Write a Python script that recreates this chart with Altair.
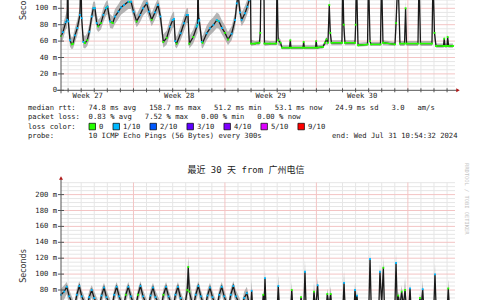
import altair as alt
import pandas as pd

# ---------------- data: upper graph (cropped, last 30 days) ----------------
top_t = [0.00, 0.15, 0.36, 0.47, 0.51, 0.56, 0.69, 0.82, 0.92, 1.07,
         1.25, 1.45, 1.52, 1.58, 1.71, 1.84, 2.01, 2.17, 2.35, 2.47,
         2.60, 2.73, 2.85, 3.06, 3.24, 3.44, 3.56, 3.75, 3.96, 4.13,
         4.39, 4.59, 4.82, 5.15, 5.36, 5.55, 5.79, 6.05, 6.28, 6.56,
         6.73, 6.94, 7.19, 7.42, 7.61, 7.83, 8.09, 8.34, 8.55, 8.65,
         8.74, 8.85, 9.16, 9.41, 9.62, 9.72, 9.82, 10.12, 10.39, 10.45,
         10.48, 10.53, 10.58, 10.77, 10.84, 11.15, 11.40, 11.66, 11.92, 12.09,
         12.32, 12.55, 12.78, 13.06, 13.32, 13.45, 13.56, 13.70, 13.83, 14.08,
         14.26, 14.40, 14.49, 14.54, 14.85, 15.19, 15.25, 15.31, 15.52, 15.57,
         15.99, 16.48, 16.53, 16.62, 16.80, 16.91, 17.49, 17.55, 17.60, 18.52,
         18.57, 18.62, 19.48, 19.53, 19.59, 20.05, 20.20, 20.32, 20.43, 20.53,
         20.61, 20.70, 21.50, 21.56, 21.64, 21.73, 22.50, 22.55, 22.61, 22.73,
         23.46, 23.53, 23.65, 23.72, 24.45, 24.53, 24.64, 25.56, 25.64, 25.79,
         25.94, 26.29, 26.37, 26.44, 27.32, 27.40, 27.51, 28.39, 28.47, 28.58,
         28.70, 29.27, 29.33, 29.39, 29.54, 29.59, 29.66, 30.00]
top_med = [66, 71, 83, 86, 150, 84, 61, 56, 57, 67,
           76, 92, 150, 88, 59, 57.6, 61, 71.5, 90, 100,
           100, 82, 78, 82, 92, 100, 102, 84, 82, 90,
           96, 101, 104, 108, 108, 96, 84, 92, 100, 106,
           96, 86, 95, 104, 90, 59, 64, 77.6, 85.7, 87,
           60, 57, 69.5, 81.7, 91.8, 92, 57, 65, 77.6, 80,
           150, 84, 85.7, 59, 58, 69.5, 75.6, 79.6, 85.7, 84,
           76, 70, 62, 69, 85.7, 106, 116, 95, 86, 94,
           102, 110, 140, 57, 57, 58, 70, 140, 140, 57,
           57, 57, 140, 61, 58, 52, 52, 61, 52, 52,
           59, 52, 52, 60, 52, 53, 58, 62, 58, 104,
           70, 58, 58, 140, 80, 58, 58, 80, 140, 55,
           56, 140, 60, 56, 56, 140, 58, 56, 82, 140,
           57, 57, 100, 57, 57, 140, 57, 57, 140, 70,
           54, 54, 63, 54, 54, 65, 54, 54]
top_lo = [58, 62, 74, 76, 130, 72, 53, 50, 51, 58,
          67, 82, 130, 78, 52, 51, 54, 62, 80, 90,
          90, 74, 71, 74, 83, 91, 93, 76, 75, 81,
          87, 92, 95, 99, 99, 88, 77, 83, 91, 96,
          88, 78, 86, 95, 80, 52, 56, 68, 76, 77,
          53, 51, 61, 72, 82, 82, 51, 57, 68, 70,
          130, 74, 76, 52, 51, 61, 67, 71, 76, 75,
          68, 62, 55, 61, 76, 96, 105, 86, 78, 85,
          93, 100, 130, 54, 55, 55, 60, 130, 130, 54,
          55, 55, 130, 55, 54, 50, 50, 51, 50, 50,
          51, 50, 50, 51, 50, 51, 55, 56, 55, 90,
          60, 55, 55, 130, 65, 55, 55, 65, 130, 53,
          54, 130, 55, 54, 54, 130, 55, 54, 65, 130,
          54, 54, 85, 54, 54, 130, 54, 54, 130, 60,
          52, 52, 53, 52, 52, 53, 52, 52]
top_hi = [74, 80, 92, 98, 160, 95, 70, 64, 66, 76,
          86, 102, 160, 98, 68, 66, 70, 81, 99, 108,
          108, 92, 86, 90, 101, 108, 110, 93, 90, 99,
          105, 110, 113, 116, 116, 105, 92, 101, 109, 114,
          105, 94, 104, 112, 100, 68, 73, 87, 95, 96,
          70, 65, 79, 91, 100, 100, 66, 74, 87, 90,
          160, 94, 95, 68, 66, 79, 85, 89, 95, 93,
          85, 79, 71, 78, 95, 115, 125, 105, 95, 103,
          111, 120, 160, 62, 60, 61, 80, 160, 160, 61,
          60, 60, 160, 66, 62, 55, 55, 64, 55, 55,
          62, 55, 55, 63, 55, 56, 61, 65, 61, 112,
          78, 61, 61, 160, 90, 61, 61, 90, 160, 58,
          59, 160, 65, 59, 59, 160, 61, 59, 95, 160,
          60, 60, 110, 60, 60, 160, 60, 60, 160, 80,
          57, 57, 66, 57, 57, 68, 57, 57]
top_loss = ("gbbbbbbggb" "bbbbbggbbb" "bbggbbbbgb" "bbbbbbgbbb" "bgbbbggbbb"
            "bgbbbbggbb" "bbbbgbbbbb" "bggbbbbbbb" "bbbggggggg" "gggggggggg"
            "gggggggggg" "gggggggggg" "gggggggggg" "ggggggggbg" "gggggggg")

# ---------------- data: lower graph (最近 30 天, cropped at the bottom) ----------------
bot_t = [0.00, 0.24, 0.44, 0.63, 1.02, 1.21, 1.40, 1.59, 1.97, 2.16,
         2.35, 2.54, 2.91, 3.10, 3.29, 3.48, 3.88, 4.07, 4.26, 4.45,
         4.77, 4.96, 5.15, 5.34, 5.70, 5.89, 6.08, 6.28, 6.66, 6.85,
         7.04, 7.23, 7.65, 7.84, 8.04, 8.23, 8.57, 8.76, 8.95, 9.15,
         9.45, 9.67, 9.74, 9.82, 10.12, 10.31, 10.51, 10.70, 11.02, 11.21,
         11.40, 11.59, 11.92, 12.11, 12.30, 12.49, 12.80, 12.99, 13.19, 13.38,
         13.83, 14.02, 14.22, 14.41, 14.50, 14.59, 14.69, 15.38, 15.48, 15.55,
         15.61, 15.71, 16.53, 16.63, 16.73, 17.56, 17.66, 17.76, 18.28, 18.37,
         18.46, 18.58, 18.67, 18.77, 19.27, 19.36, 19.48, 19.64, 19.74, 20.28,
         20.38, 20.51, 20.64, 20.74, 21.56, 21.66, 21.76, 22.41, 22.50, 22.58,
         22.65, 22.75, 23.55, 23.65, 23.75, 24.31, 24.41, 24.54, 24.67, 24.76,
         25.54, 25.64, 25.73, 25.81, 25.94, 26.07, 26.20, 26.33, 26.44, 26.61,
         26.71, 26.81, 27.38, 27.47, 27.56, 27.68, 27.78, 28.52, 28.62, 28.72,
         29.54, 29.64, 29.74, 30.00]
bot_med = [74, 78, 84, 72, 57, 74, 85, 72, 57, 71,
           80, 70, 57, 73, 83, 71, 57, 74, 84, 72,
           57, 74, 84, 72, 57, 74, 85, 72, 57, 73,
           83, 71, 57, 74, 84, 72, 57, 74, 84, 70,
           58, 80, 109, 78, 58, 74, 85, 72, 57, 73,
           83, 71, 57, 74, 84, 72, 57, 74, 85, 72,
           57, 70, 76, 62, 52, 79, 52, 52, 74, 60,
           95, 52, 52, 85, 52, 52, 80, 52, 52, 71,
           55, 55, 103, 52, 52, 78, 56, 86, 52, 52,
           75, 60, 75, 52, 52, 89, 52, 52, 80, 64,
           73, 52, 52, 119, 52, 52, 103, 62, 108, 52,
           52, 114, 62, 73, 60, 78, 60, 80, 55, 55,
           82, 52, 52, 70, 58, 81, 52, 52, 99.7, 52,
           52, 82, 52, 52]
bot_lo = [64, 68, 75, 62, 48, 64, 76, 62, 48, 61,
          71, 60, 48, 63, 74, 61, 48, 64, 75, 62,
          48, 64, 75, 62, 48, 64, 76, 62, 48, 63,
          74, 61, 48, 64, 75, 62, 48, 64, 75, 60,
          49, 68, 90, 66, 49, 64, 76, 62, 48, 63,
          74, 61, 48, 64, 75, 62, 48, 64, 76, 62,
          48, 60, 67, 52, 44, 67, 44, 44, 62, 52,
          83, 44, 44, 73, 44, 44, 68, 44, 44, 60,
          47, 47, 91, 44, 44, 66, 48, 74, 44, 44,
          63, 52, 63, 44, 44, 77, 44, 44, 68, 56,
          61, 44, 44, 107, 44, 44, 91, 54, 96, 44,
          44, 102, 54, 61, 52, 66, 52, 68, 47, 47,
          70, 44, 44, 58, 50, 69, 44, 44, 88, 44,
          44, 70, 44, 44]
bot_hi = [82, 86, 90, 80, 64, 82, 91, 80, 64, 79,
          86, 78, 64, 81, 89, 79, 64, 82, 90, 80,
          64, 82, 90, 80, 64, 82, 91, 80, 64, 81,
          89, 79, 64, 82, 90, 80, 64, 82, 90, 78,
          66, 100, 122, 95, 66, 82, 91, 80, 64, 81,
          89, 79, 64, 82, 90, 80, 64, 82, 91, 80,
          64, 78, 84, 70, 60, 93, 60, 60, 80, 66,
          107, 60, 60, 99, 60, 60, 90, 60, 60, 75,
          62, 62, 118, 60, 60, 90, 63, 95, 60, 60,
          82, 66, 85, 60, 60, 104, 60, 60, 89, 70,
          80, 60, 60, 131, 60, 60, 113, 68, 121, 60,
          60, 126, 68, 78, 66, 86, 66, 95, 62, 62,
          89, 60, 60, 75, 64, 92.6, 60, 60, 113.6, 60,
          60, 93.5, 60, 60]
bot_loss = ("bbbbgbbbgb" "bbgbbbgbbb" "ggbbggbbgb" "bbggbbgbbb" "gggggbbbgb"
            "bbgbbbgbbb" "gbbbgbgggg" "bggbgggggg" "ggbggggbgg" "gggggbggbg"
            "bggbggbggg" "gbgggggggg" "bggggbggbg" "gggg")

# ---------------- axis / legend texts ----------------
week_labels = ["Week 27", "Week 28", "Week 29", "Week 30"]
week_centers = [2.045, 9.045, 16.045, 23.045]       # days since start
week_lines = [5.545, 12.545, 19.545, 26.545]         # Sunday 00:00
day_lines = [0.545 + i for i in range(30)]           # every midnight
top_ticks = [0, 20, 40, 60, 80, 100]
bot_ticks = [80, 100, 120, 140, 160, 180, 200]
legend_line1 = "median rtt:   74.8 ms avg   158.7 ms max   51.2 ms min   53.1 ms now   24.9 ms sd   3.0   am/s"
legend_line2 = "packet loss:  0.83 % avg   7.52 % max   0.00 % min   0.00 % now"
legend_line3 = "loss color:"
legend_line4 = "probe:        10 ICMP Echo Pings (56 Bytes) every 300s"
legend_end = "end: Wed Jul 31 10:54:32 2024"
loss_labels = ["0", "1/10", "2/10", "3/10", "4/10", "5/10", "9/10"]
loss_colors = ["#26ff00", "#00b8ff", "#0059ff", "#5e00ff", "#7e00ff", "#dd00ff", "#ff0000"]
title2 = "最近 30 天 from 广州电信"
y_title = "Seconds"
watermark = "RRDTOOL / TOBI OETIKER"

# ---------------- layout constants ----------------
NB = "\u00a0"
def nb(s):
    return s.replace(" ", NB)

MONO = "DejaVu Sans Mono"
FS = 7.2
CW = FS * 0.602
GREEN, BLUE = "#26ff00", "#00b8ff"
PXD = 13.067
X0 = 61.0
XR = 455.0
XS = alt.Scale(domain=[-X0 / PXD, (480 - X0) / PXD], nice=False, zero=False)
Y0T, KT = 90.3, 0.82
YT = alt.Scale(domain=[(Y0T - 300) / KT, Y0T / KT], nice=False, zero=False)
Y0B, KB = 353.6, 0.795
YB = alt.Scale(domain=[(Y0B - 300) / KB, Y0B / KB], nice=False, zero=False)
BOT_TOP = 182.5

layers = []


def X(f):
    return alt.X(f, scale=XS, axis=None)


def px(f):
    return alt.X(f, scale=None, axis=None)


def py(f):
    return alt.Y(f, scale=None, axis=None)


def panel(t, med, lo, hi, loss, ys, vmin, vmax, ytop, ybot):
    df = pd.DataFrame({"t": t, "med": med, "lo": lo, "hi": hi, "loss": list(loss)})
    df["col"] = df["loss"].map({"g": GREEN, "b": BLUE})
    Y = lambda f: alt.Y(f, scale=ys, axis=None)
    vals = list(range(vmin, vmax + 1, 5))
    minor = pd.DataFrame({"v": [v for v in vals if v % 20]})
    major = pd.DataFrame({"v": [v for v in vals if v % 20 == 0 and v > 0]})
    dminor = pd.DataFrame({"d": [d for d in day_lines if d not in week_lines]})
    dmajor = pd.DataFrame({"d": week_lines})
    out = [
        alt.Chart(minor).mark_rule(color="#e6e6e6", strokeWidth=1).encode(
            y=Y("v:Q"), x=alt.value(X0), x2=alt.value(XR)),
        alt.Chart(dminor).mark_rule(color="#e6e6e6", strokeWidth=1).encode(
            x=X("d:Q"), y=alt.value(ytop), y2=alt.value(ybot)),
        alt.Chart(major).mark_rule(color="#f3c4c4", strokeWidth=1).encode(
            y=Y("v:Q"), x=alt.value(X0), x2=alt.value(XR)),
        alt.Chart(dmajor).mark_rule(color="#f3c4c4", strokeWidth=1).encode(
            x=X("d:Q"), y=alt.value(ytop), y2=alt.value(ybot)),
        alt.Chart(df).mark_area(color="#9c9c9c", opacity=0.75).encode(
            x=X("t:Q"), y=Y("lo:Q"), y2="hi:Q"),
        alt.Chart(df).mark_line(color="#1a1a1a", strokeWidth=1.3).encode(
            x=X("t:Q"), y=Y("med:Q")),
    ]
    seg = pd.DataFrame({"t": df.t.values[:-1], "t2": df.t.values[1:],
                        "m": df.med.values[:-1], "m2": df.med.values[1:]})
    seg = seg[(seg.m2 - seg.m).abs() <= 2.5]
    out.append(alt.Chart(seg).mark_rule(color=GREEN, strokeWidth=1.5).encode(
        x=X("t:Q"), x2="t2:Q", y=Y("m:Q"), y2="m2:Q"))
    out.append(alt.Chart(df).mark_square(size=3.5, opacity=1).encode(
        x=X("t:Q"), y=Y("med:Q"), color=alt.Color("col:N", scale=None)))
    return out


layers += panel(top_t, top_med, top_lo, top_hi, top_loss, YT, 5, 110, 0, Y0T)
layers += panel(bot_t, bot_med, bot_lo, bot_hi, bot_loss, YB, 70, 215, BOT_TOP, 300)

AX = "#555555"
one = pd.DataFrame({"a": [0]})
# axes lines
layers.append(alt.Chart(one).mark_rule(color=AX, strokeWidth=1).encode(
    x=alt.value(57), x2=alt.value(457), y=alt.value(Y0T)))
layers.append(alt.Chart(one).mark_rule(color=AX, strokeWidth=1).encode(
    x=alt.value(X0), y=alt.value(0), y2=alt.value(Y0T + 3)))
layers.append(alt.Chart(one).mark_rule(color=AX, strokeWidth=1).encode(
    x=alt.value(X0), y=alt.value(178), y2=alt.value(300)))
layers.append(alt.Chart(one).mark_point(shape="triangle-right", filled=True, size=16,
                                        color="#b01818", opacity=1).encode(
    x=alt.value(458), y=alt.value(Y0T)))
layers.append(alt.Chart(one).mark_point(shape="triangle-up", filled=True, size=16,
                                        color="#b01818", opacity=1).encode(
    x=alt.value(X0), y=alt.value(178)))
# x ticks
xt = pd.DataFrame({"d": day_lines})
layers.append(alt.Chart(xt).mark_rule(color=AX, strokeWidth=1).encode(
    x=X("d:Q"), y=alt.value(Y0T - 2), y2=alt.value(Y0T + 2)))

# y tick marks + labels
for ticks, ys in ((top_ticks, YT), (bot_ticks, YB)):
    td = pd.DataFrame({"v": ticks,
                       "lab": [nb("0  ") if v == 0 else nb(f"{v} m") for v in ticks]})
    layers.append(alt.Chart(td).mark_rule(color=AX, strokeWidth=1).encode(
        y=alt.Y("v:Q", scale=ys, axis=None), x=alt.value(58), x2=alt.value(64)))
    layers.append(alt.Chart(td).mark_text(font=MONO, fontSize=FS, color="#222222",
                                          align="right", baseline="middle").encode(
        y=alt.Y("v:Q", scale=ys, axis=None), x=alt.value(57), text="lab:N"))

# week labels
wk = pd.DataFrame({"d": week_centers, "lab": [nb(s) for s in week_labels]})
layers.append(alt.Chart(wk).mark_text(font=MONO, fontSize=FS, color="#222222",
                                      align="center", baseline="middle").encode(
    x=X("d:Q"), y=alt.value(Y0T + 5.5), text="lab:N"))

# legend text
lg = pd.DataFrame({
    "x": [28, 28, 28, 28, 332],
    "y": [108.3, 117.3, 126.5, 135.7, 135.7],
    "s": [nb(legend_line1), nb(legend_line2), nb(legend_line3), nb(legend_line4), nb(legend_end)],
})
layers.append(alt.Chart(lg).mark_text(font=MONO, fontSize=FS, color="#1a1a1a",
                                      align="left", baseline="middle").encode(
    x=px("x:Q"), y=py("y:Q"), text="s:N"))

# loss colour boxes
bx, rows = 89.0, []
for lab, col in zip(loss_labels, loss_colors):
    rows.append({"x0": bx, "x1": bx + 6.5, "y0": 123.3, "y1": 129.8, "tx": bx + 10, "lab": lab, "c": col})
    bx += 10 + len(lab) * CW + 9.65
bxdf = pd.DataFrame(rows)
layers.append(alt.Chart(bxdf).mark_rect(stroke="#000000", strokeWidth=0.7).encode(
    x=px("x0:Q"), x2="x1:Q", y=py("y0:Q"), y2="y1:Q", fill=alt.Fill("c:N", scale=None)))
layers.append(alt.Chart(bxdf).mark_text(font=MONO, fontSize=FS, color="#1a1a1a",
                                        align="left", baseline="middle").encode(
    x=px("tx:Q"), y=alt.value(126.5), text="lab:N"))

# titles
tt = pd.DataFrame({"s": [nb(title2)]})
layers.append(alt.Chart(tt).mark_text(font="'DejaVu Sans Mono', 'Noto Sans CJK SC'", fontSize=9,
                                      color="#222222", align="center", baseline="middle").encode(
    x=alt.value(246), y=alt.value(170), text="s:N"))
st = pd.DataFrame({"s": [y_title, y_title], "x": [24, 24], "y": [20, 266]})
layers.append(alt.Chart(st.iloc[[0]]).mark_text(font="DejaVu Sans", fontSize=8, color="#333333",
                                                angle=270, align="left", baseline="middle").encode(
    x=px("x:Q"), y=py("y:Q"), text="s:N"))
layers.append(alt.Chart(st.iloc[[1]]).mark_text(font="DejaVu Sans", fontSize=8, color="#333333",
                                                angle=270, align="center", baseline="middle").encode(
    x=px("x:Q"), y=py("y:Q"), text="s:N"))
wm = pd.DataFrame({"s": [nb(watermark)]})
layers.append(alt.Chart(wm).mark_text(font=MONO, fontSize=5.4, color="#c4c4c4",
                                      angle=90, align="left", baseline="middle").encode(
    x=alt.value(467), y=alt.value(163), text="s:N"))

chart = alt.layer(*layers).resolve_scale(y="independent").properties(
    width=480, height=300, autosize=alt.AutoSizeParams(type="none"), padding=0,
    background="white"
).configure_view(stroke=None)

chart.save("out.html", embed_options={"renderer": "svg", "actions": False})
